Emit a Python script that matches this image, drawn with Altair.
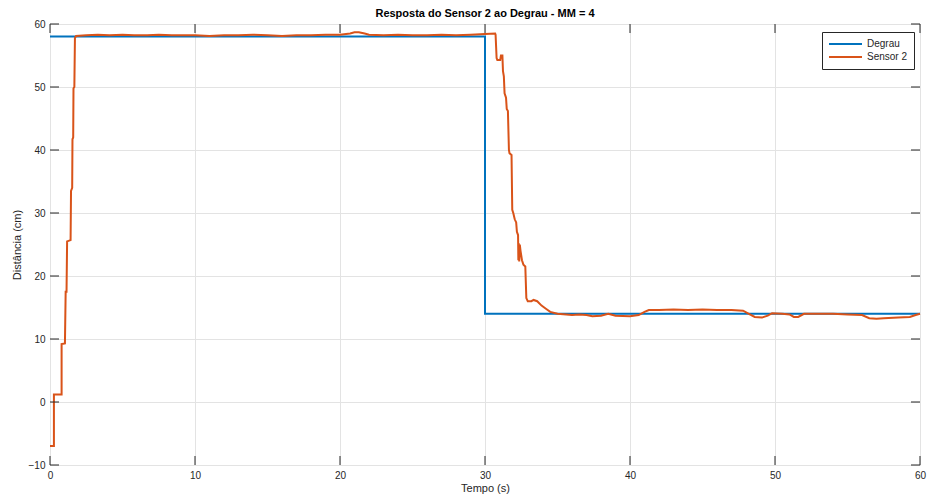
import altair as alt
import pandas as pd

# ---- data ----
degrau_t = [0, 30, 30, 60]
degrau_v = [58.0, 58.0, 14.0, 14.0]

sensor_t = [
    0.0, 0.27, 0.27, 0.80, 0.80, 1.03, 1.08, 1.14, 1.18, 1.42, 1.45, 1.53, 1.55, 1.60, 1.62, 1.68, 1.72, 1.80,
    2.5, 3.3, 4.1, 5.0, 5.8, 6.7, 7.5, 8.4, 9.2, 10.0, 11.0, 12.0, 13.0, 14.0, 15.0, 16.0, 17.0, 18.0,
    19.0, 20.0, 20.7, 21.0, 21.3, 21.7, 22.0, 23.0, 24.0, 25.0, 26.0, 27.0, 28.0, 29.0, 30.0, 30.7,
    30.73, 30.80, 30.85, 31.05, 31.10, 31.20, 31.24, 31.30, 31.35, 31.45, 31.50, 31.58, 31.65, 31.69, 31.83,
    31.88, 31.95, 32.05, 32.15, 32.20, 32.28, 32.30, 32.33, 32.36, 32.40, 32.45, 32.55, 32.65, 32.78, 32.85,
    32.95, 33.20, 33.35, 33.60, 33.90, 34.20, 34.50, 35.0, 35.6,
    36.0, 36.5, 37.0, 37.4, 38.0, 38.5, 39.0, 40.0, 40.6, 41.0, 41.3, 42.0, 43.0, 44.0, 45.0, 46.0, 47.0,
    47.8, 48.2, 48.6, 49.1, 49.5, 49.8, 50.5, 51.0, 51.3, 51.6, 52.0, 53.0, 54.0, 55.0, 56.0, 56.5, 57.0,
    57.5, 58.5, 59.3, 59.7, 60.0,
]
sensor_v = [
    -7.0, -7.0, 1.2, 1.2, 9.2, 9.3, 17.5, 17.5, 25.5, 25.7, 33.5, 34.0, 41.7, 42.0, 49.8, 50.0, 57.8, 58.1,
    58.2, 58.3, 58.2, 58.3, 58.2, 58.2, 58.3, 58.2, 58.2, 58.2, 58.1, 58.2, 58.2, 58.3, 58.2, 58.1, 58.2, 58.2,
    58.3, 58.3, 58.5, 58.7, 58.7, 58.5, 58.3, 58.2, 58.3, 58.2, 58.2, 58.3, 58.2, 58.3, 58.4, 58.5,
    58.3, 54.6, 54.3, 54.3, 55.0, 55.0, 52.5, 51.7, 49.0, 48.3, 46.5, 46.2, 40.0, 39.5, 39.2,
    30.5, 30.0, 29.0, 28.5, 27.0, 26.5, 22.5, 25.2, 22.3, 25.0, 24.0, 22.5, 21.8, 21.5, 16.5,
    16.0, 16.0, 16.2, 16.0, 15.3, 14.8, 14.3, 14.0, 13.9,
    13.8, 13.9, 13.8, 13.6, 13.7, 14.0, 13.7, 13.6, 13.8, 14.3, 14.6, 14.6, 14.7, 14.6, 14.7, 14.6, 14.6,
    14.5, 14.0, 13.5, 13.4, 13.7, 14.1, 14.0, 13.9, 13.5, 13.5, 14.0, 14.0, 14.0, 13.9, 13.8, 13.3, 13.2,
    13.3, 13.4, 13.5, 13.8, 14.0,
]

series_names = ["Degrau", "Sensor 2"]
series_colors = ["#0072BD", "#D95319"]

x_ticks = [0, 10, 20, 30, 40, 50, 60]
y_ticks = [-10, 0, 10, 20, 30, 40, 50, 60]

title_text = "Resposta do Sensor 2 ao Degrau - MM = 4"
x_title = "Tempo (s)"
y_title = "Distância (cm)"

# ---- build table ----
rows = []
for i, (t, v) in enumerate(zip(degrau_t, degrau_v)):
    rows.append({"t": t, "v": v, "serie": "Degrau", "i": i})
for i, (t, v) in enumerate(zip(sensor_t, sensor_v)):
    rows.append({"t": t, "v": v, "serie": "Sensor 2", "i": i})
df = pd.DataFrame(rows)

W, H = 870, 441
FONT = "Liberation Sans"
AX = "#262626"
TICK = 9

xscale = alt.Scale(domain=[0, 60], nice=False, zero=False)
yscale = alt.Scale(domain=[-10, 60], nice=False, zero=False)

lines = alt.Chart(df).mark_line(strokeWidth=2, strokeJoin="miter").encode(
    x=alt.X("t:Q", scale=xscale,
            axis=alt.Axis(values=x_ticks, title=x_title, grid=True, domain=False, tickSize=0,
                          labelFlush=False,
                          labelPadding=5, titlePadding=2, labelFontSize=10, titleFontSize=11,
                          titleFontWeight="normal", labelColor=AX, titleColor=AX,
                          labelFont=FONT, titleFont=FONT, gridColor="#e3e3e3")),
    y=alt.Y("v:Q", scale=yscale,
            axis=alt.Axis(values=y_ticks, title=y_title, grid=True, domain=False, tickSize=0,
                          labelFlush=False,
                          labelPadding=5, titlePadding=6, labelFontSize=10, titleFontSize=11,
                          titleFontWeight="normal", labelColor=AX, titleColor=AX,
                          labelFont=FONT, titleFont=FONT, gridColor="#e3e3e3")),
    color=alt.Color("serie:N", scale=alt.Scale(domain=series_names, range=series_colors),
                    legend=alt.Legend(title=None, orient="none", legendX=772, legendY=8,
                                      symbolType="stroke", symbolStrokeWidth=2, symbolSize=1089,
                                      labelFontSize=10, labelFont=FONT, labelColor=AX,
                                      strokeColor=AX, fillColor="white", padding=6,
                                      rowPadding=1, clipHeight=12, symbolOffset=0)),
    detail="serie:N",
    order=alt.Order("i:Q"),
)

ydf = pd.DataFrame({"yt": y_ticks})
xdf = pd.DataFrame({"xt": x_ticks})

yt_left = alt.Chart(ydf).mark_rule(color=AX, strokeWidth=1).encode(
    y=alt.Y("yt:Q", scale=yscale), x=alt.value(0), x2=alt.value(TICK))
yt_right = alt.Chart(ydf).mark_rule(color=AX, strokeWidth=1).encode(
    y=alt.Y("yt:Q", scale=yscale), x=alt.value(W - TICK), x2=alt.value(W))
xt_bot = alt.Chart(xdf).mark_rule(color=AX, strokeWidth=1).encode(
    x=alt.X("xt:Q", scale=xscale), y=alt.value(H - TICK), y2=alt.value(H))
xt_top = alt.Chart(xdf).mark_rule(color=AX, strokeWidth=1).encode(
    x=alt.X("xt:Q", scale=xscale), y=alt.value(0), y2=alt.value(TICK))

chart = alt.layer(lines, yt_left, yt_right, xt_bot, xt_top).properties(
    width=W, height=H,
    title=alt.Title(title_text, font=FONT, fontSize=11, fontWeight="bold", color="#000000",
                    frame="group", offset=0),
    autosize=alt.AutoSizeParams(type="none"),
    padding={"left": 42, "top": 16, "right": 8, "bottom": 30},
).configure_view(stroke=AX, strokeWidth=1).configure(background="white")

chart.save("out.html", embed_options={"renderer": "svg", "actions": False})
